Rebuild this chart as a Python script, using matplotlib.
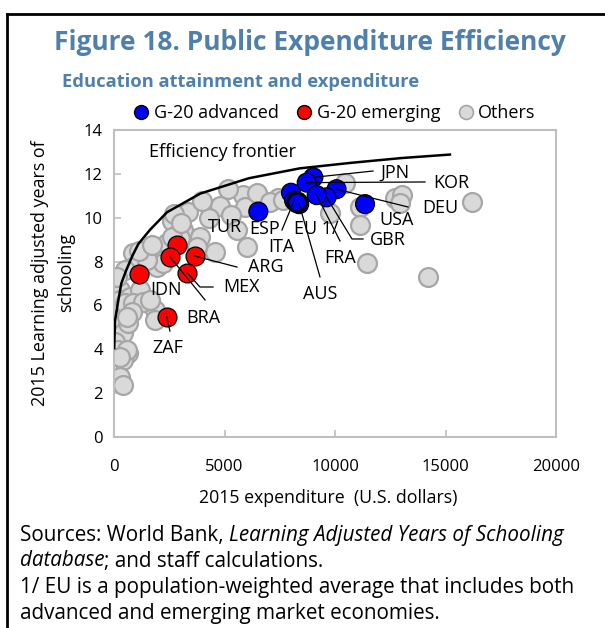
import matplotlib
matplotlib.use("Agg")
import matplotlib.pyplot as plt
from matplotlib.lines import Line2D

# ---------------- data ----------------
adv_names = ["JPN", "KOR", "DEU", "USA", "GBR", "FRA", "CAN", "ITA", "AUS", "ESP", "EU 1/"]
adv_x = [9020, 8720, 10070, 11360, 9620, 9170, 8010, 8150, 8380, 6530, 8290]
adv_y = [11.84, 11.60, 11.30, 10.62, 10.93, 11.03, 11.14, 10.78, 10.62, 10.28, 10.70]

emg_names = ["TUR", "BRA", "ARG", "MEX", "IDN", "ZAF"]
emg_x = [2870, 2530, 3665, 3320, 1145, 2385]
emg_y = [8.75, 8.22, 8.25, 7.49, 7.42, 5.49]

oth_x = [5837, 5928, 6471, 4797, 5294, 3349, 2625, 3122, 2987, 3892, 4570, 3756, 2398,
         5566, 6018, 1855, 860, 1312, 860, 498, 1946, 2217, 1493, 272, 272, 724, 1177,
         1177, 1539, 1855, 588, 181, 407, 1855, 498, 860, 1312, 1629, 815, 45, 272, 407,
         634, 45, 181, 634, 407, 272, 407, 588, 588, 272, 7421, 7059, 7647, 9774, 10453,
         11132, 11132, 12715, 13032, 12942, 16200, 11448, 14209, 4300, 3980, 2640, 5180,
         1130, 2700, 3050, 1700, 130]
oth_y = [11.04, 10.49, 11.13, 10.53, 10.12, 10.26, 9.85, 9.44, 9.07, 9.12, 8.44, 8.66, 8.85,
         9.44, 8.66, 8.07, 8.39, 7.93, 7.75, 7.62, 7.75, 7.93, 8.07, 6.70, 6.25, 6.38, 6.25,
         6.70, 6.11, 5.79, 5.93, 5.65, 5.34, 5.34, 6.11, 6.11, 6.16, 6.25, 5.70, 5.34, 5.11, 4.74,
         5.20, 4.33, 3.97, 3.83, 3.51, 2.74, 2.37, 5.47, 3.97, 3.65, 10.90, 10.72, 10.81, 10.21, 11.58,
         10.49, 9.67, 10.90, 11.04, 10.67, 10.72, 7.93, 7.30, 10.00, 10.75, 9.10, 11.30,
         8.50, 10.15, 9.75, 8.75, 7.30]

frontier_x = [10, 45, 190, 330, 550, 850, 1100, 1630, 2400, 3900, 6100, 8400, 10700, 13000, 15200]
frontier_y = [4.05, 5.3, 6.2, 7.0, 7.6, 8.3, 8.8, 9.45, 10.25, 11.1, 11.8, 12.25, 12.5, 12.72, 12.88]

x_ticks = [0, 5000, 10000, 15000, 20000]
y_ticks = [0, 2, 4, 6, 8, 10, 12, 14]

# ---------------- layout ----------------
W, H = 605, 628
FONT = "Open Sans"
plt.rcParams["font.family"] = [FONT, "DejaVu Sans"]
TITLE_COL = "#4F80AC"

fig = plt.figure(figsize=(W / 100, H / 100), dpi=100)


def fx(px):
    return px / W


def fy(py):
    return 1 - py / H


ax = fig.add_axes([fx(114), fy(437), fx(556) - fx(114), fy(130) - fy(437)])
ax.set_xlim(0, 20000)
ax.set_ylim(0, 14)
ax.set_xticks(x_ticks)
ax.set_yticks(y_ticks)
ax.tick_params(direction="in", length=5, width=1.2, color="#BFBFBF", labelsize=12)
ax.tick_params(axis="x", pad=16)
ax.tick_params(axis="y", pad=8)
for s in ax.spines.values():
    s.set_color("#BFBFBF")
    s.set_linewidth(1.5)

MS = 185
ax.scatter(oth_x, oth_y, s=MS, facecolor="#D9D9D9", edgecolor="#A6A6A6", linewidth=1.6, zorder=2)
ax.plot(frontier_x, frontier_y, color="black", lw=1.8, zorder=3)
ax.scatter(emg_x, emg_y, s=MS, facecolor="#FF0000", edgecolor="black", linewidth=0.9, zorder=4)
adv_lw = [2.2 if n == "EU 1/" else 0.9 for n in adv_names]
ax.scatter(adv_x, adv_y, s=MS, facecolor="#0000FF", edgecolor="black", linewidth=adv_lw, zorder=4)

# label positions (data coords) and leader line waypoints
label_pos = {
    "JPN": (12715, 12.04), "KOR": (15250, 11.58), "DEU": (14750, 10.44), "USA": (12806, 9.90),
    "GBR": (12400, 8.98), "FRA": (10227, 8.16), "AUS": (9320, 6.52), "ITA": (7557, 8.66),
    "EU 1/": (9140, 9.48), "ESP": (6830, 9.48), "TUR": (5020, 9.58), "ARG": (6880, 7.75),
    "MEX": (5750, 6.84), "IDN": (2350, 6.70), "BRA": (4030, 5.43), "ZAF": (2440, 4.06),
}
leaders = {
    "JPN": [(11720, 12.13)], "KOR": [(14073, 11.63)], "DEU": [(13300, 10.49)],
    "GBR": [(10770, 9.03), (11270, 9.03)], "FRA": [(10227, 8.94)], "AUS": [(9320, 7.30)],
    "ITA": [(7600, 9.44)], "ARG": [(5566, 7.75)], "MEX": [(3890, 6.84), (4480, 6.84)],
    "BRA": [(4120, 6.25)], "ZAF": [(2530, 4.83)],
}
pts = dict(zip(adv_names, zip(adv_x, adv_y)))
pts.update(dict(zip(emg_names, zip(emg_x, emg_y))))
for name, way in leaders.items():
    xs = [pts[name][0]] + [p[0] for p in way]
    ys = [pts[name][1]] + [p[1] for p in way]
    ax.plot(xs, ys, color="black", lw=0.9, zorder=5)
for name, (lx, ly) in label_pos.items():
    ax.text(lx, ly, name, ha="center", va="center", fontsize=13, zorder=6)

ax.text(1584, 13.0, "Efficiency frontier", ha="left", va="center", fontsize=13)

# axis labels
fig.text(fx(328), fy(498), "2015 expenditure  (U.S. dollars)", ha="center", va="center", fontsize=12.8)
fig.text(fx(40), fy(273), "2015 Learning adjusted years of", rotation=90, ha="center", va="center", fontsize=12.9)
fig.text(fx(66), fy(273), "schooling", rotation=90, ha="center", va="center", fontsize=12.9)

# titles
fig.text(fx(310), fy(42), "Figure 18. Public Expenditure Efficiency", ha="center", va="center",
         fontsize=19, fontweight="bold", color=TITLE_COL)
fig.text(fx(62), fy(82), "Education attainment and expenditure", ha="left", va="center",
         fontsize=13.2, fontweight="bold", color=TITLE_COL)

# legend
handles = [
    Line2D([], [], ls="", marker="o", ms=10, mfc="#0000FF", mec="black", mew=1.0),
    Line2D([], [], ls="", marker="o", ms=10, mfc="#FF0000", mec="black", mew=1.0),
    Line2D([], [], ls="", marker="o", ms=10, mfc="#D9D9D9", mec="#A6A6A6", mew=1.2),
]
fig.legend(handles, ["G-20 advanced", "G-20 emerging", "Others"], loc="center",
           bbox_to_anchor=(fx(333), fy(113)), ncol=3, frameon=False, fontsize=13,
           handletextpad=0.1, columnspacing=0.8, handlelength=1.2, borderaxespad=0)

# footnotes with mixed styles
fig.canvas.draw()
renderer = fig.canvas.get_renderer()
FN = 14.9


def rich_line(px, py, pieces):
    x = fx(px)
    for txt, style in pieces:
        t = fig.text(x, fy(py), txt, ha="left", va="center", fontsize=FN, style=style)
        bb = t.get_window_extent(renderer=renderer)
        x += bb.width / W


rich_line(20, 535, [("Sources: World Bank, ", "normal"), ("Learning Adjusted Years of Schooling", "italic")])
rich_line(20, 561, [("database", "italic"), ("; and staff calculations.", "normal")])
rich_line(20, 588, [("1/ EU is a population-weighted average that includes both", "normal")])
rich_line(20, 614, [("advanced and emerging market economies.", "normal")])

# outer border (top and left)
fig.add_artist(Line2D([fx(7), 1], [fy(14), fy(14)], color="black", lw=2))
fig.add_artist(Line2D([fx(7), fx(7)], [fy(14), 0], color="black", lw=2))

fig.savefig("out.png", dpi=100)
